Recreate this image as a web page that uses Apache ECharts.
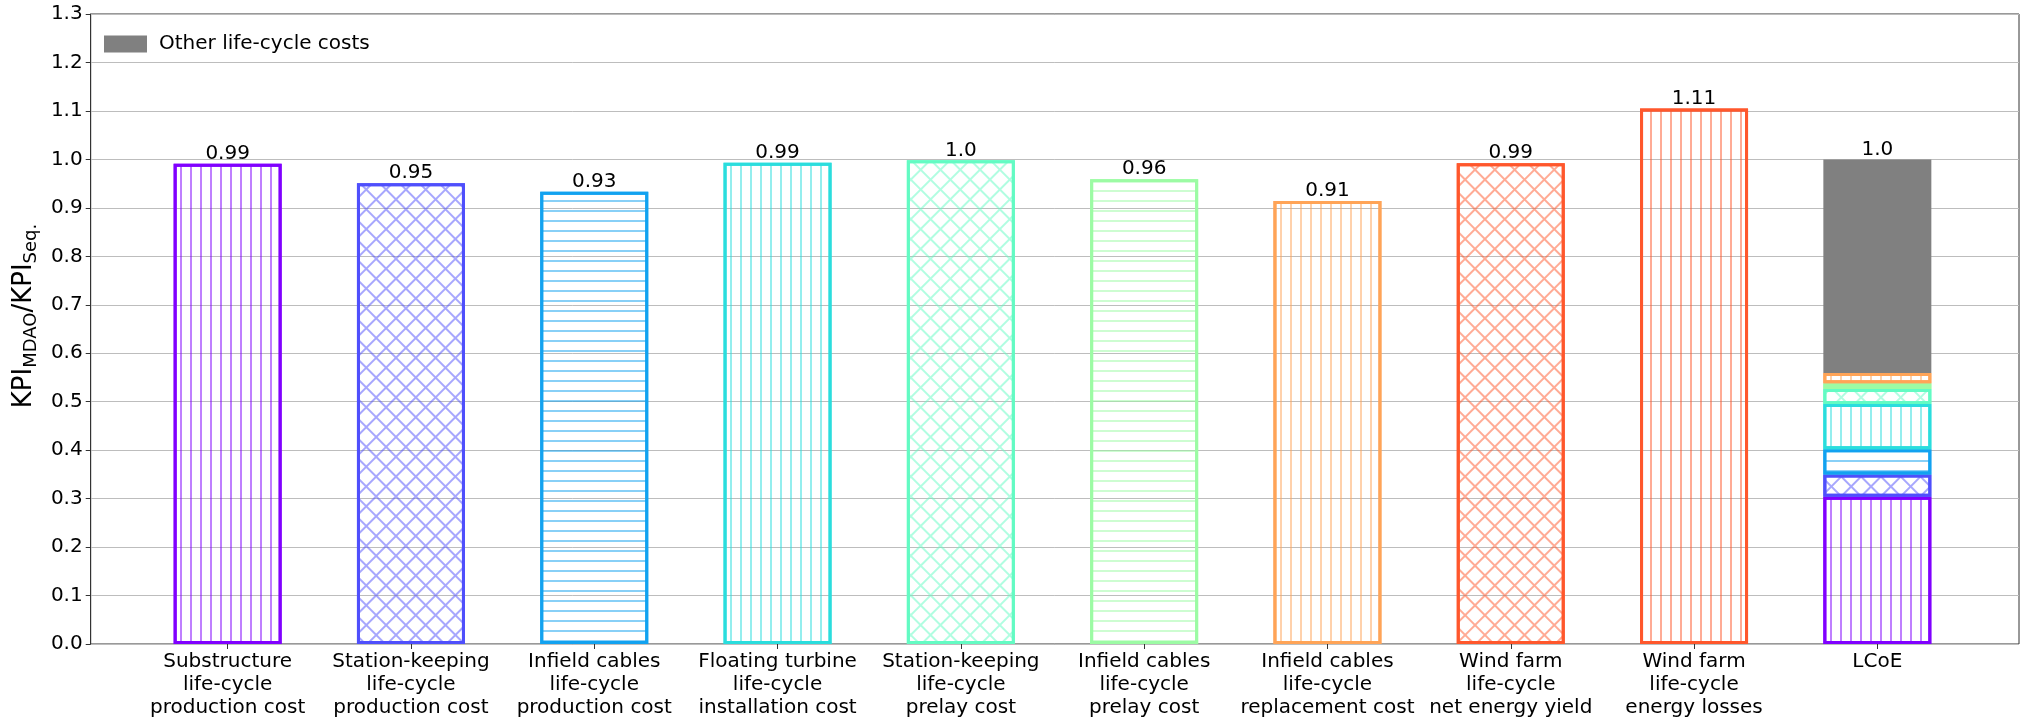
<!DOCTYPE html>
<html>
<head>
<meta charset="utf-8">
<title>KPI MDAO / Seq.</title>
<script src="https://cdn.jsdelivr.net/npm/echarts@6/dist/echarts.min.js"></script>
<style>
    html, body { margin: 0; padding: 0; background: #fff; }
    #chart { width: 2029px; height: 724px; }
</style>
</head>
<body>
<div id="chart"></div>
<script>
// 分类（x轴标签）
var categories = [
    'Substructure\nlife-cycle\nproduction cost',
    'Station-keeping\nlife-cycle\nproduction cost',
    'Infield cables\nlife-cycle\nproduction cost',
    'Floating turbine\nlife-cycle\ninstallation cost',
    'Station-keeping\nlife-cycle\nprelay cost',
    'Infield cables\nlife-cycle\nprelay cost',
    'Infield cables\nlife-cycle\nreplacement cost',
    'Wind farm\nlife-cycle\nnet energy yield',
    'Wind farm\nlife-cycle\nenergy losses',
    'LCoE'
];
// 各KPI比值
var kpiValues = [0.991, 0.951, 0.933, 0.993, 0.998, 0.959, 0.914, 0.992, 1.105];
var kpiLabels = ['0.99', '0.95', '0.93', '0.99', '1.0', '0.96', '0.91', '0.99', '1.11'];
// LCoE 堆叠部分（前7项成本）
var lcoeParts = [0.304, 0.046, 0.052, 0.093, 0.031, 0.012, 0.021];
var lcoeOther = 0.441;
var lcoeLabel = '1.0';
var otherName = 'Other life-cycle costs';

var colors = ['#8000ff', '#4f4ffc', '#12a2f0', '#2adddd', '#63fbc3', '#9cfba4', '#ffa457', '#ff572c', '#ff572c'];
var hatches = ['|', 'x', '-', '|', 'x', '-', '|', 'x', '|'];
var FONT = 'DejaVu Sans';

function fade(hex, a) {
    var r = parseInt(hex.substr(1, 2), 16), g = parseInt(hex.substr(3, 2), 16), b = parseInt(hex.substr(5, 2), 16);
    return 'rgba(' + r + ',' + g + ',' + b + ',' + a + ')';
}

// 阴影线 -> decal
function makeDecal(h, color) {
    var c = fade(color, 0.5);
    if (h == '|') {
        return { symbol: 'rect', symbolSize: 1, dashArrayX: [2, 8], dashArrayY: [10, 0], rotation: 0, color: c };
    } else if (h == '-') {
        return { symbol: 'rect', symbolSize: 1, dashArrayX: [10, 0], dashArrayY: [2, 8], rotation: 0, color: c };
    }
    return { symbol: 'rect', symbolSize: 1, dashArrayX: [[14, 0], [2, 12]], dashArrayY: [2, 0, 12, 0], rotation: Math.PI / 4, color: c };
}

// 只在第 idx 个分类上有值
function oneAt(idx, v) {
    var arr = [];
    for (var k = 0; k < categories.length; k++) {
        arr.push(k == idx ? v : '-');
    }
    return arr;
}

function barSeries(name, idx, v, color, hatch, label) {
    return {
        name: name,
        type: 'bar',
        stack: 'all',
        xAxisIndex: 1,
        yAxisIndex: 1,
        barWidth: 108,
        data: oneAt(idx, v),
        itemStyle: {
            color: 'rgba(255,255,255,0)',
            borderColor: color,
            borderWidth: 3,
            decal: makeDecal(hatch, color)
        },
        label: {
            show: !!label,
            position: 'top',
            distance: 0,
            formatter: function() { return label; },
            fontFamily: FONT,
            fontSize: 20,
            color: '#000'
        },
        emphasis: { disabled: true }
    };
}

var series = [];
var i;
for (i = 0; i < kpiValues.length; i++) {
    series.push(barSeries('kpi' + i, i, kpiValues[i], colors[i], hatches[i], kpiLabels[i]));
}
for (i = 0; i < lcoeParts.length; i++) {
    series.push(barSeries('lcoe' + i, 9, lcoeParts[i], colors[i], hatches[i], null));
}
series.push({
    name: otherName,
    type: 'bar',
    stack: 'all',
    xAxisIndex: 1,
    yAxisIndex: 1,
    barWidth: 108,
    data: oneAt(9, lcoeOther),
    itemStyle: { color: '#808080', borderColor: '#808080', borderWidth: 3 },
    label: {
        show: true,
        position: 'top',
        distance: 0,
        formatter: function() { return lcoeLabel; },
        fontFamily: FONT,
        fontSize: 20,
        color: '#000'
    },
    emphasis: { disabled: true }
});

var myChart = echarts.init(document.getElementById('chart'));
var option = {
    animation: false,
    backgroundColor: '#fff',
    textStyle: { fontFamily: FONT },
    grid: [
        {   // 外框 + y轴
            left: 84, right: 10, top: 14, bottom: 80,
            show: true,
            borderColor: '#333',
            borderWidth: 1,
            backgroundColor: 'rgba(0,0,0,0)'
        },
        {   // 柱子
            left: 136, right: 60, top: 14, bottom: 80
        }
    ],
    legend: {
        data: [otherName],
        left: 99,
        top: 29,
        itemWidth: 41,
        itemHeight: 15,
        icon: 'rect',
        textStyle: { fontFamily: FONT, fontSize: 20, color: '#000', padding: [0, 0, 0, 8] },
        selectedMode: false
    },
    xAxis: [
        { gridIndex: 0, type: 'value', min: 0, max: 1, show: false },
        {
            gridIndex: 1,
            type: 'category',
            data: categories,
            axisLine: { show: false },
            axisTick: { show: true, alignWithLabel: true, length: 5, lineStyle: { color: '#333' } },
            axisLabel: {
                interval: 0,
                fontFamily: FONT,
                fontSize: 20,
                lineHeight: 23,
                color: '#000',
                margin: 6
            }
        }
    ],
    yAxis: [
        {
            gridIndex: 0,
            type: 'value',
            min: 0,
            max: 1.3,
            interval: 0.1,
            name: 'KPI{sub|MDAO}/KPI{sub|Seq.}',
            nameLocation: 'middle',
            nameGap: 39,
            nameTextStyle: {
                fontFamily: FONT,
                fontSize: 26,
                color: '#000',
                lineHeight: 32,
                padding: [0, 0, 0, 26],
                rich: {
                    sub: { fontFamily: FONT, fontSize: 18, lineHeight: 18, verticalAlign: 'bottom', color: '#000' }
                }
            },
            axisLine: { show: true, onZero: false, lineStyle: { color: '#333' } },
            axisTick: { show: true, length: 5, lineStyle: { color: '#333' } },
            axisLabel: {
                formatter: function(v) { return v.toFixed(1); },
                fontFamily: FONT,
                fontSize: 20,
                color: '#000',
                margin: 8
            },
            splitLine: { show: true, lineStyle: { color: '#bdbdbd', width: 1 } }
        },
        { gridIndex: 1, type: 'value', min: 0, max: 1.3, show: false }
    ],
    series: series
};
myChart.setOption(option);
</script>
</body>
</html>
